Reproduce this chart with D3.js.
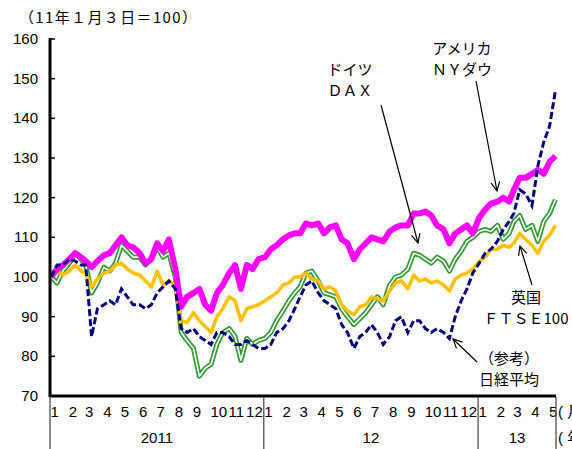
<!DOCTYPE html>
<meta charset="utf-8">
<style>
  body { margin: 0; background: #fff; }
  svg { display: block; }
  text { font-family: "Liberation Sans", Arial, "Noto Sans CJK JP", sans-serif; fill: #000; }
  .jp { font-family: "Noto Sans CJK JP", sans-serif; }
</style>
<svg width="572" height="449"></svg>
<script src="https://d3js.org/d3.v7.min.js"></script>
<script>
// sample days of each month (3rd, 13th, 23rd), Jan 2011 .. mid May 2013
const sampleDays = [3, 13, 23]
const yearLabels = ["2011", "12", "13"]
const monthLabels = ["1","2","3","4","5","6","7","8","9","10","11","12",
                     "1","2","3","4","5","6","7","8","9","10","11","12",
                     "1","2","3","4","5"]
const yTicks = [70, 80, 90, 100, 110, 120, 130, 140, 150, 160]

// ドイツＤＡＸ
const dax = [
  100, 98.5, 101.5, 103.5, 106, 104.5, 103, 96, 98.5, 102.5, 101.5, 103.5,
  108, 106.5, 105, 105, 103, 104.5, 107.5, 105, 106, 100, 86, 84,
  82, 75, 77, 78, 83, 86, 87, 85, 79, 84.5, 83, 84,
  84.5, 86, 89, 91.5, 94, 96, 97.5, 101, 101.5, 99, 96, 95.5,
  95, 92, 90, 88, 89.5, 91, 93, 95, 93, 98, 100, 100.5,
  102, 106, 105.5, 104.5, 103.5, 105, 104, 101.5, 104.5, 106.5, 109, 110,
  111.5, 112, 111.5, 113, 109.5, 111, 114, 115.5, 112, 113, 109, 114,
  116, 119.5]
// 英国ＦＴＳＥ100
const ftse = [
  100, 101.5, 100.5, 101.5, 103, 101.5, 101, 97.5, 99.5, 101, 101.5, 103,
  103.5, 102, 101, 100.5, 99, 97.5, 101.5, 98, 99, 98, 89, 88.5,
  91, 89, 87.5, 86, 90, 92, 95, 94, 89, 92, 92.5, 93,
  94, 95, 96, 98, 98.5, 100, 100, 101, 99.5, 99, 97, 97.5,
  96.5, 93, 91.5, 90.5, 92.5, 93, 95, 94.5, 94, 96.5, 98.5, 99,
  97, 100.5, 99, 99.5, 98.5, 99, 98, 96.5, 99.5, 100.5, 101, 102,
  104, 105, 107, 107, 108, 107.5, 108.5, 111, 109.5, 108, 106, 109,
  110.5, 113]
// アメリカＮＹダウ
const dow = [
  100, 102, 103, 104.5, 106, 105, 104, 102.5, 104, 105.5, 106, 108,
  110, 108, 107.5, 106, 103.5, 104.5, 108.5, 106.5, 109.5, 102, 92.5, 95,
  96, 97, 93, 91.5, 96, 98, 101, 103, 97, 103, 102, 104.5,
  105, 107, 108, 109.5, 110.5, 111, 111, 113.5, 113, 113.5, 111, 112.5,
  113, 109.5, 108.5, 104.5, 107, 108.5, 110, 109.5, 109, 111.5, 112.5, 113,
  113, 116, 116, 116.5, 115.5, 113, 112, 108.5, 111, 112, 113, 111,
  115, 117, 118.5, 119, 120, 119, 122, 125, 125, 126, 127, 126,
  129, 130.5]
// （参考）日経平均
const nikkei = [
  100, 103, 103, 104.5, 104, 103, 103, 85, 92, 93, 94, 93,
  97, 95, 93, 93, 92, 93, 96, 97.5, 99, 97, 87, 86,
  87, 85, 84, 83, 86, 86, 85, 83, 83, 84, 83, 82,
  82, 83, 86, 87, 89, 92, 95, 98, 99, 96, 94, 93,
  92, 88, 86, 82, 85, 86, 88, 86, 83, 85, 89, 90,
  86, 89, 89, 87, 86, 87, 86, 84.5, 90, 94, 97, 101,
  103.5, 106, 107, 109, 112, 114, 116, 122, 121, 118, 128, 134,
  138, 147]

const dates = []
for (let m = 0; dates.length < dax.length; m++)
  for (const d of sampleDays) if (dates.length < dax.length) dates.push(new Date(2011, m, d))

const svg = d3.select("svg")
const x = d3.scaleTime().domain([new Date(2011, 0, 1), new Date(2013, 4, 14)]).range([50, 556])
const y = d3.scaleLinear().domain([70, 160]).range([396, 39])

const line = vals => d3.line().x((d, i) => x(dates[i])).y(d => y(d))(vals)

// title
svg.append("text").attr("class", "jp").attr("x", 19).attr("y", 23)
  .attr("font-size", 15).attr("textLength", 178).attr("lengthAdjust", "spacing")
  .text("（11年１月３日＝100）")

// y axis labels
svg.selectAll(".ylab").data(yTicks).join("text")
  .attr("x", 38).attr("y", d => y(d) + 5).attr("text-anchor", "end")
  .attr("font-size", 15).text(d => d)
svg.selectAll(".ytick").data(yTicks).join("line")
  .attr("x1", 50).attr("x2", 55).attr("y1", d => y(d)).attr("y2", d => y(d))
  .attr("stroke", "#000").attr("stroke-width", 1.5)

// series
svg.append("path").attr("d", line(dax)).attr("fill", "none")
  .attr("stroke", "#339933").attr("stroke-width", 5).attr("stroke-linejoin", "round")
svg.append("path").attr("d", line(dax)).attr("fill", "none")
  .attr("stroke", "#fff").attr("stroke-width", 1.6).attr("stroke-linejoin", "round")
svg.append("path").attr("d", line(ftse)).attr("fill", "none")
  .attr("stroke", "#ffc000").attr("stroke-width", 3.5).attr("stroke-linejoin", "round")
svg.append("path").attr("d", line(dow)).attr("fill", "none")
  .attr("stroke", "#ff00ff").attr("stroke-width", 6).attr("stroke-linejoin", "round")
svg.append("path").attr("d", line(nikkei)).attr("fill", "none")
  .attr("stroke", "#000080").attr("stroke-width", 3).attr("stroke-dasharray", "7,3")

// axes lines
svg.append("line").attr("x1", 50).attr("x2", 50).attr("y1", 38).attr("y2", 397)
  .attr("stroke", "#000").attr("stroke-width", 3)
svg.append("line").attr("x1", 49).attr("x2", 556).attr("y1", 396).attr("y2", 396)
  .attr("stroke", "#000").attr("stroke-width", 3)

// month labels
const monthStarts = d3.timeMonth.range(new Date(2011, 0, 1), new Date(2013, 5, 1))
svg.selectAll(".mlab").data(monthLabels).join("text")
  .attr("x", (d, i) => x(monthStarts[i]) + 0.5).attr("y", 417)
  .attr("font-size", 15).text(d => d)

// year separators and labels
const yearEdges = [new Date(2011, 0, 1), new Date(2012, 0, 1), new Date(2013, 0, 1), new Date(2013, 4, 14)]
svg.selectAll(".ysep").data(yearEdges).join("line")
  .attr("x1", d => x(d)).attr("x2", d => x(d)).attr("y1", 397).attr("y2", 449)
  .attr("stroke", "#666").attr("stroke-width", 1.5)
svg.selectAll(".yrlab").data(yearLabels).join("text")
  .attr("x", (d, i) => (x(yearEdges[i]) + x(yearEdges[i + 1])) / 2).attr("y", 443)
  .attr("text-anchor", "middle").attr("font-size", 15).text(d => d)
svg.append("text").attr("x", 558).attr("y", 417).attr("font-size", 15).text("( 月 )")
svg.append("text").attr("x", 558).attr("y", 443).attr("font-size", 15).text("( 年 )")

// annotations
const notes = [
  { lines: ["ドイツ", "ＤＡＸ"], cx: 350, y0: 75, from: [381, 105], to: [418, 243] },
  { lines: ["アメリカ", "ＮＹダウ"], cx: 462, y0: 54, from: [476, 81], to: [497, 191] },
  { lines: ["英国", "ＦＴＳＥ100"], cx: 526, y0: 303, from: [532, 285], to: [520, 246] },
  { lines: ["（参考）", "日経平均"], cx: 509, y0: 364, from: [477, 362], to: [453, 339] }
]
notes.forEach(n => {
  n.lines.forEach((t, i) => svg.append("text").attr("class", "jp")
    .attr("x", n.cx).attr("y", n.y0 + i * 21).attr("text-anchor", "middle")
    .attr("font-size", 15).text(t))
  svg.append("line").attr("x1", n.from[0]).attr("y1", n.from[1])
    .attr("x2", n.to[0]).attr("y2", n.to[1]).attr("stroke", "#000").attr("stroke-width", 1.2)
  const a = Math.atan2(n.to[1] - n.from[1], n.to[0] - n.from[0])
  const h = 10, s = 0.45
  svg.append("path").attr("fill", "none").attr("stroke", "#000").attr("stroke-width", 1.2)
    .attr("d", `M${n.to[0] - h * Math.cos(a - s)},${n.to[1] - h * Math.sin(a - s)}L${n.to[0]},${n.to[1]}L${n.to[0] - h * Math.cos(a + s)},${n.to[1] - h * Math.sin(a + s)}`)
})
</script>
